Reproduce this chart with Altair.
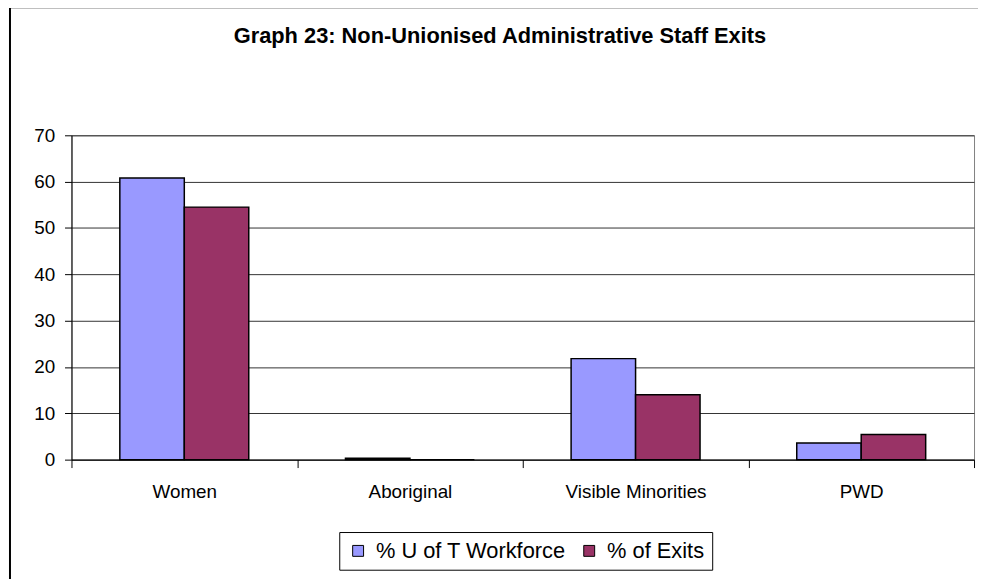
import altair as alt
import pandas as pd

categories = ["Women", "Aboriginal", "Visible Minorities", "PWD"]
series = ["% U of T Workforce", "% of Exits"]
workforce = [60.8, 0.3, 21.8, 3.6]
exits = [54.5, 0.0, 14.0, 5.4]
y_ticks = [0, 10, 20, 30, 40, 50, 60, 70]
colors = ["#9999FF", "#993366"]
title_text = "Graph 23: Non-Unionised Administrative Staff Exits"

rows = []
for c, w, e in zip(categories, workforce, exits):
    rows.append({"category": c, "series": series[0], "value": w})
    rows.append({"category": c, "series": series[1], "value": e})
df = pd.DataFrame(rows)

FONT = "Liberation Sans"

bars = alt.Chart(df).mark_bar(stroke="black", strokeWidth=1.5).encode(
    x=alt.X(
        "category:N",
        sort=categories,
        scale=alt.Scale(paddingInner=0, paddingOuter=0),
        axis=alt.Axis(
            title=None, labelAngle=0, labelFontSize=19, labelFont=FONT,
            labelColor="black", domainColor="black", tickColor="black",
            tickSize=8, tickBand="extent", labelPadding=15, grid=False,
        ),
    ),
    xOffset=alt.XOffset(
        "series:N", sort=series,
        scale=alt.Scale(paddingInner=0, paddingOuter=0.75),
    ),
    y=alt.Y(
        "value:Q",
        scale=alt.Scale(domain=[0, 70], nice=False),
        axis=alt.Axis(
            values=y_ticks, title=None, labelFontSize=19, labelFont=FONT,
            labelColor="black", domainColor="black", tickColor="black",
            tickSize=7, labelPadding=10, grid=True, gridColor="#333333",
            gridWidth=1,
        ),
    ),
    color=alt.Color(
        "series:N",
        sort=series,
        scale=alt.Scale(domain=series, range=colors),
        legend=alt.Legend(
            orient="none", legendX=270, legendY=400, direction="horizontal",
            title=None, symbolType="square", symbolSize=121,
            symbolStrokeColor="black", symbolStrokeWidth=1,
            labelFontSize=22, labelFont=FONT, labelColor="black",
            labelLimit=0, strokeColor="black", fillColor="white",
            padding=8, columnPadding=12, labelOffset=7, symbolOpacity=1,
        ),
    ),
)

frame = alt.Chart(pd.DataFrame({"a": [0]})).mark_rect(
    fillOpacity=0, stroke="black", strokeWidth=2, clip=False
).encode(
    x=alt.value(-62), x2=alt.value(940), y=alt.value(-129), y2=alt.value(470)
)

chart = alt.layer(frame, bars).properties(
    width=910,
    height=327,
    title=alt.TitleParams(
        title_text, fontSize=22, fontWeight="bold", font=FONT, color="black",
        anchor="middle", frame="group", baseline="bottom", offset=0,
        dy=64, dx=-23,
    ),
    autosize=alt.AutoSizeParams(type="none"),
    padding={"left": 64, "top": 126, "right": 4, "bottom": 118},
).configure_view(stroke="#808080", strokeWidth=1)

chart.save("out.html", embed_options={"renderer": "svg", "actions": False})
